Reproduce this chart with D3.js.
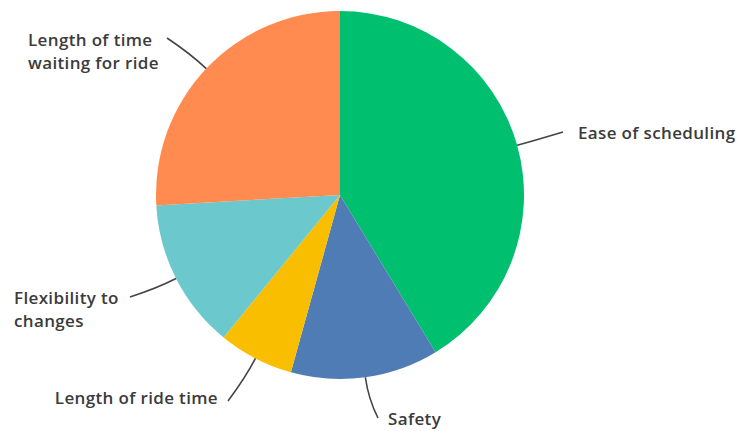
<!DOCTYPE html>
<html>
<head>
<meta charset="utf-8">
<script src="https://cdn.jsdelivr.net/npm/d3@7"></script>
<style>
  html, body { margin: 0; padding: 0; background: #fff; }
  svg { display: block; }
  .lbl { font-family: "Open Sans", sans-serif; font-size: 17px; fill: #3b3b3b; font-weight: 600; letter-spacing: 0.35px; }
  .leader { fill: none; stroke: #444; stroke-width: 1.6; }
</style>
</head>
<body>
<svg id="chart" width="739" height="431"></svg>
<script>
// Survey answers, shares in percent, clockwise from 12 o'clock
const categories = [
  "Ease of scheduling",
  "Safety",
  "Length of ride time",
  "Flexibility to changes",
  "Length of time waiting for ride"
];
const values = [41.3, 13.0, 6.6, 13.2, 25.9];
const colors = ["#00bf6f", "#507cb6", "#f9be00", "#6bc8cd", "#ff8b50"];

// Label text split into lines
const labelLines = [
  ["Ease of scheduling"],
  ["Safety"],
  ["Length of ride time"],
  ["Flexibility to", "changes"],
  ["Length of time", "waiting for ride"]
];

const cx = 340, cy = 195, R = 184;

const svg = d3.select("#chart");
const g = svg.append("g").attr("transform", `translate(${cx},${cy})`);

const data = categories.map((c, i) => ({ name: c, value: values[i], color: colors[i], lines: labelLines[i] }));

const pie = d3.pie().value(d => d.value).sort(null);
const arc = d3.arc().innerRadius(0).outerRadius(R);
const arcs = pie(data);

g.selectAll("path.slice")
  .data(arcs)
  .join("path")
  .attr("class", "slice")
  .attr("d", arc)
  .attr("fill", d => d.data.color);

// Label placement (relative to the pie centre): end of leader, text anchor, text position
const labelLayout = [
  { end: [223, -63], anchor: "start", tx: 238, ty: -56 },
  { end: [38, 223], anchor: "start", tx: 48, ty: 230 },
  { end: [-112, 206], anchor: "end", tx: -122, ty: 209 },
  { end: [-210, 102], anchor: "start", tx: -326, ty: 109 },
  { end: [-173, -157], anchor: "start", tx: -312, ty: -149 }
];

const lineGap = 23;

arcs.forEach((a, i) => {
  const mid = (a.startAngle + a.endAngle) / 2;
  const sx = Math.sin(mid) * R, sy = -Math.cos(mid) * R;
  const ext = 22;
  const qx = Math.sin(mid) * (R + ext), qy = -Math.cos(mid) * (R + ext);
  const L = labelLayout[i];
  const p = d3.path();
  p.moveTo(sx, sy);
  p.quadraticCurveTo(qx, qy, L.end[0], L.end[1]);
  g.append("path").attr("class", "leader").attr("d", p.toString());

  const t = g.append("text")
    .attr("class", "lbl")
    .attr("text-anchor", L.anchor);
  a.data.lines.forEach((ln, k) => {
    t.append("tspan")
      .attr("x", L.tx)
      .attr("y", L.ty + k * lineGap)
      .text(ln);
  });
});
</script>
</body>
</html>
